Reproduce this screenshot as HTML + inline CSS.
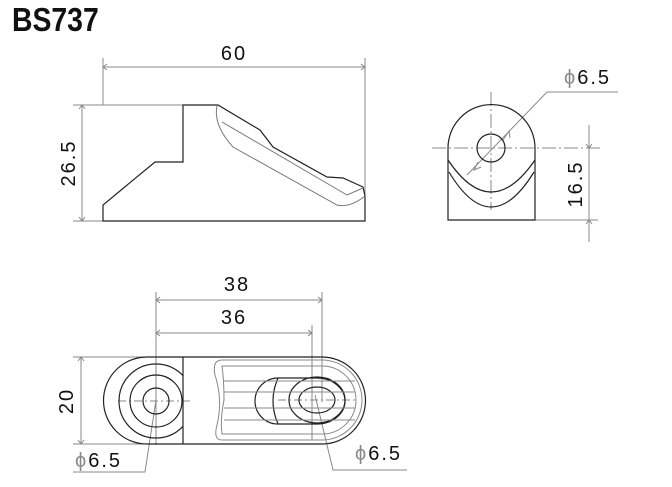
<!DOCTYPE html>
<html><head><style>
html,body{margin:0;padding:0;background:#fff;}
svg{display:block;}
text{font-family:"Liberation Sans",sans-serif;fill:#111;}
.p{fill:#888;font-weight:normal;}
</style></head><body>
<svg width="672" height="487" viewBox="0 0 672 487" xmlns="http://www.w3.org/2000/svg">
<text x="12" y="31" font-size="33" font-weight="bold" transform="scale(0.86,1)" style="transform-origin:12px 31px">BS737</text>

<!-- side view -->
<g fill="none" stroke="#888" stroke-width="1">
<line x1="103" y1="58" x2="103" y2="105"/><line x1="365" y1="58" x2="365" y2="196"/>
<line x1="103" y1="67" x2="365" y2="67"/>
<line x1="73" y1="105" x2="183" y2="105"/><line x1="73" y1="221" x2="103" y2="221"/>
<line x1="82" y1="105" x2="82" y2="221"/>
<path d="M107,64 L103,67 L107,70 M361,64 L365,67 L361,70 M79,109 L82,105 L85,109 M79,217 L82,221 L85,217"/>
</g>
<text x="234" y="60" font-size="20" text-anchor="middle" letter-spacing="2">60</text>
<text x="0" y="0" font-size="20" text-anchor="middle" letter-spacing="2" transform="translate(75,163) rotate(-90)">26.5</text>
<g fill="none" stroke="#222" stroke-width="1.2">
<path d="M103,221 L365,221 L365,196 L363,187 L343,178 L327,177 L273,147 L260,130 L218,105 L183,105 L183,162 L155,162 L103,205 Z"/>
</g>
<g fill="none" stroke="#777" stroke-width="1">
<path d="M217,106 Q213,125 233,147 L337,205 Q350,208 365,196"/>
<path d="M222,122 L347,195 L363,188"/>
</g>

<!-- front view -->
<g fill="none" stroke="#888" stroke-width="1">
<line x1="432" y1="148" x2="600" y2="148" stroke-dasharray="14,3,2,3"/>
<line x1="491" y1="92" x2="491" y2="210" stroke-dasharray="14,3,2,3"/>
<line x1="535" y1="220" x2="598" y2="220"/>
<line x1="589" y1="125" x2="589" y2="242"/>
<path d="M586,144 L589,148 L592,144 M586,224 L589,220 L592,224"/>
<path d="M467,175 L547,92 L618,92"/>
<path d="M503,140 L509,131 L510,138 M478,162 L474,170 L481,167"/>
</g>
<text x="564" y="84" font-size="20" letter-spacing="2"><tspan class="p">ϕ</tspan>6.5</text>
<text x="0" y="0" font-size="20" text-anchor="middle" letter-spacing="2" transform="translate(582,184) rotate(-90)">16.5</text>
<g fill="none" stroke="#222" stroke-width="1.2">
<path d="M448,148 A43,43 0 0 1 535,148 L535,220 L448,220 Z"/>
<circle cx="491" cy="148" r="14"/>
<path d="M448,160 Q491,224 535,160"/>
<path d="M449,172 Q491,242 534,172"/>
</g>

<!-- top view -->
<g fill="none" stroke="#888" stroke-width="1">
<line x1="156" y1="292" x2="156" y2="445"/>
<line x1="322" y1="292" x2="322" y2="402"/>
<line x1="312" y1="325" x2="312" y2="440"/>
<line x1="156" y1="300" x2="322" y2="300"/>
<line x1="156" y1="333" x2="312" y2="333"/>
<path d="M160,297 L156,300 L160,303 M318,297 L322,300 L318,303 M160,330 L156,333 L160,336 M308,330 L312,333 L308,336"/>
<line x1="73" y1="357" x2="147" y2="357"/><line x1="73" y1="444" x2="147" y2="444"/>
<line x1="81" y1="357" x2="81" y2="444"/>
<path d="M78,361 L81,357 L84,361 M78,440 L81,444 L84,440"/>
<line x1="118" y1="401" x2="190" y2="401" stroke-dasharray="8,3,2,3"/>
<line x1="278" y1="400" x2="358" y2="400" stroke-dasharray="8,3,2,3"/>
<path d="M156,400 L145,472 L73,472"/>
<path d="M315,395 L333,470 L407,470"/>
</g>
<text x="75" y="467" font-size="20" letter-spacing="2"><tspan class="p">ϕ</tspan>6.5</text>
<text x="355" y="460" font-size="20" letter-spacing="2"><tspan class="p">ϕ</tspan>6.5</text>
<text x="237" y="291" font-size="20" text-anchor="middle" letter-spacing="2">38</text>
<text x="234" y="324" font-size="20" text-anchor="middle" letter-spacing="2">36</text>
<text x="0" y="0" font-size="20" text-anchor="middle" letter-spacing="2" transform="translate(73,401) rotate(-90)">20</text>
<defs><clipPath id="cl"><rect x="100" y="357" width="83" height="88"/></clipPath></defs>
<g fill="none" stroke="#222" stroke-width="1.2">
<path d="M147,357 L322,357 A43.5,43.5 0 0 1 322,444 L147,444 A43.5,43.5 0 0 1 147,357 Z"/>
<line x1="183" y1="357" x2="183" y2="444"/>
<circle cx="156" cy="401" r="37" clip-path="url(#cl)"/>
<circle cx="156" cy="401" r="26"/>
<circle cx="156" cy="401" r="13"/>
<path d="M278,378 L317,378 A28,23 0 0 1 317,424 L278,424 A23,23 0 0 1 278,378 Z"/>
<path d="M278,378 Q268,401 278,424"/>
<ellipse cx="317" cy="400" rx="28" ry="23"/>
<ellipse cx="317" cy="400" rx="18" ry="13"/>
</g>
<g fill="none" stroke="#888" stroke-width="1">
<path d="M222,360 L322,360 A40,40 0 0 1 322,440 L222,440 Q213,440 217,425 Q223,400 215,375 Q212,360 222,360 Z"/>
<path d="M222,366 L322,366 A34,34 0 0 1 322,434 L222,434 Q220,420 224,400 Q224,380 222,366 Z"/>
<line x1="224" y1="381" x2="355" y2="381"/>
<line x1="224" y1="392" x2="355" y2="392"/>
<line x1="224" y1="408" x2="355" y2="408"/>
<line x1="224" y1="420" x2="355" y2="420"/>
</g>
</svg>
</body></html>
